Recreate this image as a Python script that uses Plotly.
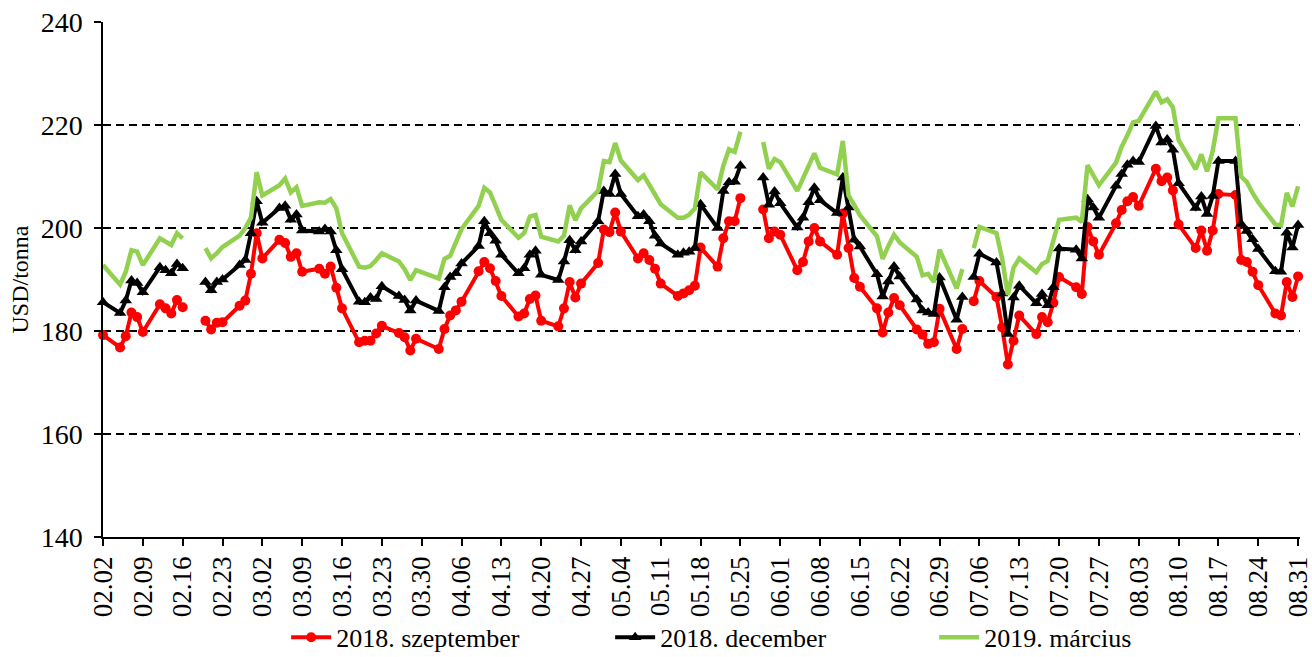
import plotly.graph_objects as go

# ---- trading days (2018), by month ----
feb_days = ["02","05","06","07","08","09","12","13","14","15","16","19","20","21","22","23","26","27","28"]
mar_days = ["01","02","05","06","07","08","09","12","13","14","15","16","19","20","21","22","23","26","27","28","29"]
apr_days = ["02","03","04","05","06","09","10","11","12","13","16","17","18","19","20","23","24","25","26","27","30"]
may_days = ["01","02","03","04","07","08","09","10","11","14","15","16","17","18","21","22","23","24","25","28","29","30","31"]
jun_days = ["01","04","05","06","07","08","11","12","13","14","15","18","19","20","21","22","25","26","27","28","29"]
jul_days = ["02","03","04","05","06","09","10","11","12","13","16","17","18","19","20","23","24","25","26","27","30","31"]
aug_days = ["01","02","03","06","07","08","09","10","13","14","15","16","17","20","21","22","23","24","27","28","29","30","31"]

# ---- 2018. szeptember (USD/tonna) ----
sep_feb = [179.2,176.8,179.0,183.6,182.7,179.8,185.2,184.4,183.4,186.0,184.6,None,182.0,180.3,181.6,181.7,184.9,185.9,191.1]
sep_mar = [199.0,194.1,197.7,197.1,194.4,195.1,191.5,192.1,191.1,192.5,188.4,184.4,177.8,178.1,178.1,179.5,181.0,179.6,178.8,176.2,178.5]
sep_apr = [176.5,180.4,183.0,184.0,185.7,191.6,193.4,192.2,189.7,186.8,182.8,183.4,186.2,186.9,182.0,180.9,184.4,189.5,186.5,189.2,193.2]
sep_may = [199.7,199.2,203.0,199.3,194.1,195.1,193.8,192.1,189.2,186.8,187.3,187.9,188.8,196.2,192.5,198.0,201.3,201.3,205.8,None,203.6,198.0,199.3]
sep_jun = [198.7,191.8,193.4,197.4,200.0,197.4,194.8,202.8,196.1,190.3,188.6,184.4,179.7,183.6,186.4,185.0,180.3,179.3,177.5,177.8,184.3]
sep_jul = [176.5,180.4,None,185.8,189.7,186.6,180.7,173.5,178.1,183.0,179.4,182.7,181.7,185.5,190.5,188.5,187.2,200.2,197.4,194.8,200.9,203.5]
sep_aug = [205.2,206.0,204.3,211.5,209.1,209.8,207.3,200.7,196.1,199.5,195.6,199.5,206.6,206.4,193.8,193.4,191.5,188.9,183.4,183.0,189.5,186.6,190.6]

# ---- 2018. december ----
dec_feb = [185.6,183.5,185.9,189.8,189.3,187.5,192.4,191.8,191.2,193.0,192.2,None,189.5,187.9,189.5,190.0,192.8,193.8,199.0]
dec_mar = [205.2,201.0,203.9,204.3,201.6,202.6,199.5,199.3,199.8,199.3,195.7,192.0,185.7,185.6,186.5,186.2,188.7,186.8,186.0,184.0,185.9]
dec_apr = [183.9,188.5,190.5,191.2,193.1,196.5,201.3,199.0,197.5,194.8,191.2,192.2,194.8,195.6,190.9,189.9,193.5,197.6,195.7,197.4,201.3]
dec_may = [207.2,206.6,210.5,206.6,202.3,202.6,201.3,198.5,197.0,194.8,195.2,195.4,196.1,204.6,200.0,207.2,208.9,209.0,212.1,None,209.8,204.5,207.1]
dec_jun = [204.8,200.1,202.0,205.0,207.8,205.4,202.9,209.8,204.0,197.7,196.4,191.0,186.7,189.6,192.5,190.6,186.1,184.0,183.6,183.3,190.4]
dec_jul = [182.2,186.6,None,190.5,195.0,193.3,187.3,179.4,186.5,188.8,185.4,187.2,185.0,188.5,196.0,195.8,194.1,205.6,204.0,202.0,208.2,210.5]
dec_aug = [212.3,213.0,212.8,219.8,216.6,217.2,215.2,208.7,203.9,206.1,202.7,206.2,213.0,213.0,200.8,199.4,197.8,195.9,191.6,191.5,199.1,196.2,200.6]

# ---- 2019. március ----
mar19_feb = [192.8,189.0,191.5,195.7,195.4,192.8,198.0,197.3,196.7,199.0,198.0,None,196.1,194.1,195.1,196.3,198.5,200.0,202.0]
mar19_mar = [210.8,206.3,208.3,209.6,206.9,207.9,204.3,205.0,204.9,205.6,203.8,199.0,192.5,192.3,192.6,193.8,195.1,193.5,192.0,189.9,191.8]
mar19_apr = [190.2,194.0,194.6,197.0,199.8,204.3,207.8,206.9,204.0,201.6,198.1,199.0,202.2,202.5,198.3,197.4,198.5,204.4,201.5,203.8,207.2]
mar19_may = [213.0,212.8,216.5,213.1,209.3,210.2,208.5,206.5,204.6,202.0,202.0,202.6,203.8,210.8,207.5,212.1,215.3,214.8,218.7,None,216.7,211.5,213.4]
mar19_jun = [212.8,207.2,209.5,212.0,214.5,211.7,210.4,216.9,206.3,204.5,202.5,198.4,194.0,196.5,198.7,197.2,194.4,190.8,191.1,189.5,195.8]
mar19_jul = [188.3,192.0,None,196.1,200.2,199.0,194.0,187.0,192.3,194.1,191.4,193.0,193.6,197.6,201.6,202.0,201.2,212.2,210.2,208.3,212.7,215.8]
mar19_aug = [218.0,220.5,220.8,226.5,224.4,225.0,223.4,217.1,211.4,214.3,211.0,215.0,221.3,221.3,210.0,208.9,206.8,205.0,200.7,200.5,206.8,204.2,208.1]

series_names = ["2018. szeptember", "2018. december", "2019. március"]
y_ticks = [140, 160, 180, 200, 220, 240]

months = [("02", feb_days), ("03", mar_days), ("04", apr_days), ("05", may_days),
          ("06", jun_days), ("07", jul_days), ("08", aug_days)]
dates = [f"2018-{m}-{d}" for m, days in months for d in days]
sep = sep_feb + sep_mar + sep_apr + sep_may + sep_jun + sep_jul + sep_aug
dec = dec_feb + dec_mar + dec_apr + dec_may + dec_jun + dec_jul + dec_aug
mar19 = mar19_feb + mar19_mar + mar19_apr + mar19_may + mar19_jun + mar19_jul + mar19_aug

FONT = "Liberation Serif, Times New Roman, serif"

fig = go.Figure()
fig.add_trace(go.Scatter(
    x=dates, y=sep, name=series_names[0], mode="lines+markers",
    line=dict(color="#FF0000", width=4),
    marker=dict(symbol="circle", size=10, color="#FF0000"),
    connectgaps=False, cliponaxis=False))
fig.add_trace(go.Scatter(
    x=dates, y=dec, name=series_names[1], mode="lines+markers",
    line=dict(color="#000000", width=4),
    marker=dict(symbol="triangle-up", size=11, color="#000000"),
    connectgaps=False, cliponaxis=False))
fig.add_trace(go.Scatter(
    x=dates, y=mar19, name=series_names[2], mode="lines",
    line=dict(color="#92D050", width=4.5),
    connectgaps=False, cliponaxis=False))

fig.update_layout(
    width=1312, height=657,
    margin=dict(l=103, r=12, t=22, b=120),
    paper_bgcolor="white", plot_bgcolor="white",
    font=dict(family=FONT, size=26, color="black"),
    showlegend=True,
    legend=dict(orientation="h", xref="paper", x=0.153, xanchor="left",
                yref="container", y=0.030, yanchor="middle",
                font=dict(family=FONT, size=26), entrywidth=269, entrywidthmode="pixels",
                itemwidth=40, bgcolor="rgba(0,0,0,0)"),
)
fig.update_xaxes(
    type="date", range=["2018-02-02", "2018-08-31 08:00"],
    tick0="2018-02-02", dtick=7 * 24 * 3600 * 1000, tickformat="%m.%d",
    tickangle=-90, ticks="outside", ticklen=7, tickwidth=1.5, tickcolor="black",
    showline=True, linecolor="black", linewidth=1.5, showgrid=False, zeroline=False,
    tickfont=dict(family=FONT, size=27), ticklabeloverflow="allow", automargin=False)
fig.update_yaxes(
    range=[140, 240], tickvals=y_ticks, ticks="outside", ticklen=7, tickwidth=1.5,
    tickcolor="black", showline=True, linecolor="black", linewidth=1.5,
    showgrid=True, gridcolor="black", gridwidth=1.5, griddash="8px,5px",
    zeroline=False, tickfont=dict(family=FONT, size=28), ticklabelstandoff=6,
    title=dict(text="USD/tonna", font=dict(family=FONT, size=24), standoff=5),
    automargin=False)

fig.write_html("out.html", config={"displayModeBar": False},
               post_script="document.body.style.margin='0';document.body.style.overflow='hidden';")
